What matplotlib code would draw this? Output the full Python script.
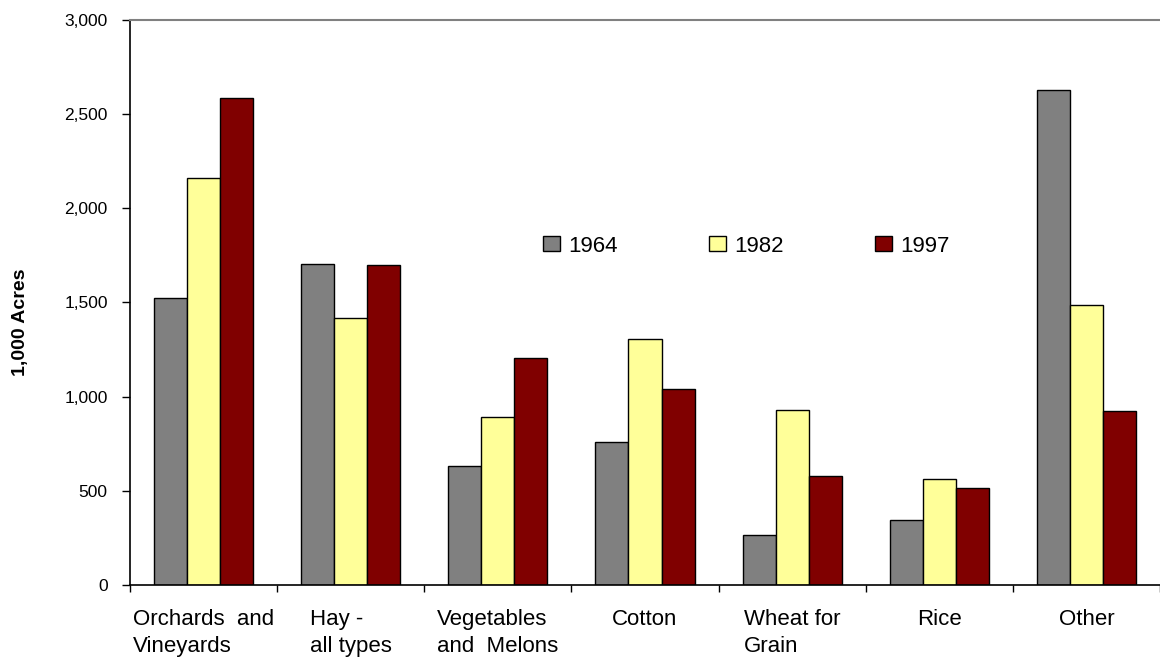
import matplotlib
matplotlib.use('Agg')
import matplotlib.pyplot as plt
import numpy as np
from matplotlib.ticker import StrMethodFormatter

plt.rcParams['font.family'] = ['Liberation Sans', 'DejaVu Sans']

# Data
# ----------------------------------------------------------------------------

categories = ['Orchards  and\nVineyards', 'Hay -\nall types', 'Vegetables\nand  Melons',
              'Cotton', 'Wheat for\nGrain', 'Rice', 'Other']
years = ['1964', '1982', '1997']
acres_1964 = [1521, 1703, 630, 761, 264, 345, 2627]
acres_1982 = [2158, 1419, 893, 1307, 929, 564, 1486]
acres_1997 = [2583, 1698, 1206, 1038, 578, 513, 922]
colors = ['#808080', '#FFFF99', '#800000']

# Plot
# ----------------------------------------------------------------------------

W, H = 1160, 667
fig = plt.figure(figsize=(W / 100, H / 100), dpi=100)
ax = fig.add_axes([130 / W, 82 / H, 1 - 130 / W, 565.3 / H])

n = len(categories)
x = np.arange(n)
w = 0.2247
series = [acres_1964, acres_1982, acres_1997]
for i, (vals, c, yr) in enumerate(zip(series, colors, years)):
    ax.bar(x + (i - 1) * w, vals, w, color=c, edgecolor='black',
           linewidth=1.0, label=yr)

ax.set_xlim(-0.5, (W - 130) / 148.05 - 0.5)
ax.set_ylim(0, 3000)
ax.set_yticks(np.arange(0, 3001, 500))
ax.yaxis.set_major_formatter(StrMethodFormatter('{x:,.0f}'))
ax.tick_params(axis='y', direction='out', length=6, width=1.0,
               labelsize=12.5, pad=10)

ax.set_xticks(x)
ax.set_xticklabels(categories, fontsize=16, linespacing=1.4)
for lbl in ax.get_xticklabels():
    lbl.set_multialignment('left')
ax.set_xticks(np.arange(n + 1) - 0.5, minor=True)
ax.tick_params(axis='x', which='major', length=0, pad=17)
ax.tick_params(axis='x', which='minor', direction='out', length=5, width=1.0)

for side in ['left', 'bottom']:
    ax.spines[side].set_color('black')
    ax.spines[side].set_linewidth(1.2)
ax.spines['top'].set_color('#808080')
ax.spines['top'].set_linewidth(1.5)
ax.spines['right'].set_visible(False)

ax.set_ylabel('1,000 Acres', fontweight='bold', fontsize=14)
ax.yaxis.set_label_coords((29 - 130) / 1030, (585 - 322) / 565.3)

fig.legend(loc='center', bbox_to_anchor=(746 / W, 1 - 246 / H), ncol=3,
           frameon=False, fontsize=16, handlelength=0.78, handleheight=0.62,
           handletextpad=0.36, columnspacing=4.1)

fig.savefig('out.png', dpi=100)
